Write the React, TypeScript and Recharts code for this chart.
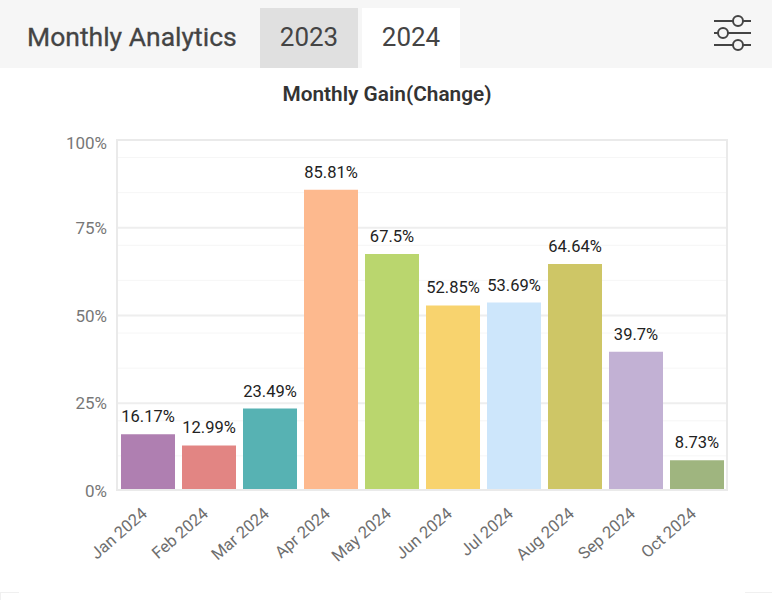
import React from "react";
import { BarChart, Bar, XAxis, YAxis, CartesianGrid, Cell, LabelList, ReferenceArea } from "recharts";

const months = ["Jan 2024", "Feb 2024", "Mar 2024", "Apr 2024", "May 2024", "Jun 2024", "Jul 2024", "Aug 2024", "Sep 2024", "Oct 2024"];
const gains = [16.17, 12.99, 23.49, 85.81, 67.5, 52.85, 53.69, 64.64, 39.7, 8.73];
const colors = ["#AF7FB1", "#E28583", "#57B2B3", "#FDB98E", "#BAD66E", "#F8D36E", "#CDE6FB", "#CEC666", "#C2B1D4", "#9FB57F"];
const majorTicks = [0, 25, 50, 75, 100];
const minorTicks = [5, 10, 15, 20, 30, 35, 40, 45, 55, 60, 65, 70, 80, 85, 90, 95];
const tabs = ["2023", "2024"];
const pageTitle = "Monthly Analytics";
const chartTitle = "Monthly Gain(Change)";

const data = months.map((month, i) => ({ month, gain: gains[i] }));
const FONT = "Roboto, sans-serif";

function XTick(props: any) {
  const x = props.x - 7;
  const y = props.y + 9;
  return (
    <text
      x={x}
      y={y}
      transform={`rotate(-41 ${x} ${y})`}
      textAnchor="end"
      dominantBaseline="hanging"
      fontFamily={FONT}
      fontSize={16.5}
      fill="#6e6e6e"
    >
      {props.payload.value}
    </text>
  );
}

function YTick(props: any) {
  const { x, y, payload } = props;
  return (
    <text
      x={x}
      y={payload.value === 100 ? y + 3 : y}
      textAnchor="end"
      dominantBaseline="central"
      fontFamily={FONT}
      fontSize={17}
      fill="#777"
    >
      {`${payload.value}%`}
    </text>
  );
}

export default function App() {
  return (
    <div style={{ position: "absolute", left: 0, top: 0, width: 772, height: 600, background: "#fff", overflow: "hidden", fontFamily: FONT }}>
      <div style={{ position: "absolute", left: 0, top: 0, width: 772, height: 68, background: "#f6f6f6" }} />
      <div style={{ position: "absolute", left: 27, top: 20, fontSize: 26.5, lineHeight: "34px", color: "#444", WebkitTextStroke: "0.3px #444" }}>{pageTitle}</div>
      {tabs.map((t, i) => (
        <div
          key={t}
          style={{
            position: "absolute",
            left: i === 0 ? 260 : 362,
            top: 8,
            width: 98,
            height: 60,
            background: i === 0 ? "#e0e0e0" : "#fff",
            color: "#444",
            fontSize: 26,
            lineHeight: "58px",
            textAlign: "center",
          }}
        >
          {t}
        </div>
      ))}
      <svg style={{ position: "absolute", left: 712, top: 14 }} width={42} height={38} viewBox="0 0 42 38" fill="none" stroke="#444" strokeWidth={2}>
        <line x1={2} y1={7} x2={21} y2={7} />
        <circle cx={26} cy={7} r={5} />
        <line x1={31} y1={7} x2={39} y2={7} />
        <line x1={2} y1={19} x2={6} y2={19} />
        <circle cx={11} cy={19} r={5} />
        <line x1={16} y1={19} x2={39} y2={19} />
        <line x1={2} y1={31} x2={21} y2={31} />
        <circle cx={26} cy={31} r={5} />
        <line x1={31} y1={31} x2={39} y2={31} />
      </svg>
      <div style={{ position: "absolute", left: 0, top: 81, width: 774, textAlign: "center", fontSize: 20.8, lineHeight: "26px", fontWeight: 600, color: "#333" }}>
        {chartTitle}
      </div>
      <div style={{ position: "absolute", left: 0, top: 0 }}>
        <BarChart
          width={772}
          height={600}
          data={data}
          margin={{ top: 140, right: 45, bottom: 39, left: 67 }}
          barCategoryGap={0}
        >
          <CartesianGrid horizontal vertical={false} horizontalValues={minorTicks} stroke="#f6f6f6" strokeWidth={1} />
          <CartesianGrid horizontal vertical={false} horizontalValues={majorTicks} stroke="#eeeeee" strokeWidth={2} />
          <ReferenceArea y1={0} y2={100} fill="none" stroke="#eaeaea" strokeWidth={2} />
          <XAxis dataKey="month" interval={0} height={70} tick={<XTick />} tickLine={false} axisLine={false} tickMargin={0} />
          <YAxis domain={[0, 100]} ticks={majorTicks} width={50} tick={<YTick />} tickLine={false} axisLine={false} tickMargin={4} />
          <Bar dataKey="gain" barSize={54} isAnimationActive={false}>
            {data.map((d, i) => (
              <Cell key={d.month} fill={colors[i]} />
            ))}
            <LabelList
              dataKey="gain"
              position="top"
              offset={12}
              formatter={(v: number) => `${v}%`}
              style={{ fontFamily: FONT, fontSize: 16.5, fill: "#222" }}
            />
          </Bar>
        </BarChart>
      </div>
      <div style={{ position: "absolute", left: 116, top: 489, width: 612, height: 5, background: "#fff", borderTop: "2px solid #eaeaea", boxSizing: "border-box" }} />
      <div style={{ position: "absolute", left: 0, top: 592, width: 19, height: 8, borderTop: "1px solid #f0f0f0", borderLeft: "1px solid #f0f0f0", boxSizing: "border-box" }} />
      <div style={{ position: "absolute", left: 745, top: 592, width: 27, height: 1, background: "#f0f0f0" }} />
    </div>
  );
}
